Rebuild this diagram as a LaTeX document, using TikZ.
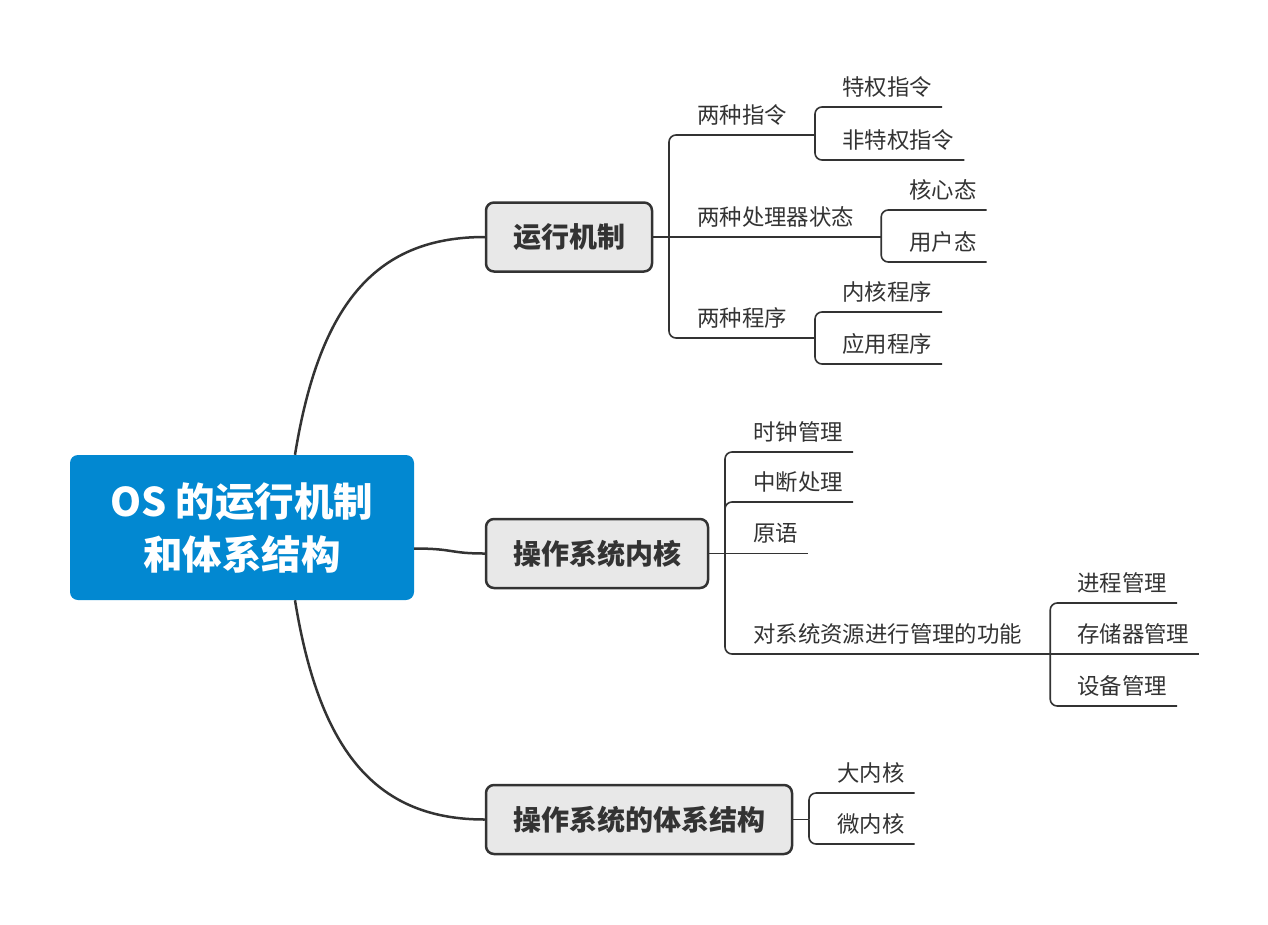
\documentclass[tikz,border=0pt]{standalone}
\usepackage{fontspec}
\setmainfont{Noto Sans CJK SC}
\definecolor{rootblue}{RGB}{2,136,209}
\definecolor{ink}{RGB}{51,51,51}
\definecolor{mainfill}{RGB}{232,232,232}
\tikzset{
 rootnode/.style={fill=rootblue, rounded corners=8pt, minimum width=344pt, minimum height=145pt, text=white, font=\fontsize{39.5}{53}\selectfont\bfseries, align=center, inner sep=0pt},
 mainnode/.style={fill=mainfill, draw=ink, line width=2.5pt, rounded corners=8pt, minimum height=69pt, inner sep=0pt, text=ink, font=\fontsize{28}{32}\selectfont\bfseries},
 leaf/.style={anchor=south west, inner xsep=0pt, inner ysep=0pt, text height=17pt, text depth=11.5pt, text=ink, font=\fontsize{22.4}{26}\selectfont},
 trunk/.style={draw=ink, line width=2.5pt},
 branch/.style={draw=ink, line width=1.6pt, rounded corners=7pt},
}
\begin{document}
\begin{tikzpicture}[x=1pt,y=-1pt]
\useasboundingbox (0,0) rectangle (1268,924);
% root and main topics
\node[rootnode] (root) at (242,527.5) {OS 的运行机制\\和体系结构};
\node[mainnode, minimum width=166pt] (m1) at (569,237) {运行机制};
\node[mainnode, minimum width=222pt] (m2) at (597,553.5) {操作系统内核};
\node[mainnode, minimum width=306pt] (m3) at (639,819.5) {操作系统的体系结构};
% trunks
\draw[trunk] ([xshift=53pt]root.north) .. controls +(25,-155) and +(-106,0) .. (m1.west);
\draw[trunk] ([yshift=-21pt]root.east) .. controls +(40,0) and +(-36,0) .. (m2.west);
\draw[trunk] ([xshift=53pt]root.south) .. controls +(25,155) and +(-106,0) .. (m3.west);
% --- 运行机制
\coordinate (j1) at (669,237);
\node[leaf] (a1) at (697,135) {两种指令};
\node[leaf] (a2) at (697,237) {两种处理器状态};
\node[leaf] (a3) at (697,338) {两种程序};
\draw[branch] (m1.east) -- (j1);
\draw[branch] (j1) |- ([xshift=28pt]a1.south east);
\draw[branch] (j1) -- ([xshift=27pt]a2.south east);
\draw[branch] (j1) |- ([xshift=28pt]a3.south east);
\coordinate (k1) at ([xshift=28pt]a1.south east);
\coordinate (k2) at ([xshift=27pt]a2.south east);
\coordinate (k3) at ([xshift=28pt]a3.south east);
\node[leaf] (b1) at (842,107) {特权指令};
\node[leaf] (b2) at (842,160) {非特权指令};
\draw[branch] (k1) |- ([xshift=10pt]b1.south east);
\draw[branch] (k1) |- ([xshift=10pt]b2.south east);
\node[leaf] (c1) at (909,210) {核心态};
\node[leaf] (c2) at (909,262) {用户态};
\draw[branch] (k2) |- ([xshift=10pt]c1.south east);
\draw[branch] (k2) |- ([xshift=10pt]c2.south east);
\node[leaf] (g1) at (842,312) {内核程序};
\node[leaf] (g2) at (842,364) {应用程序};
\draw[branch] (k3) |- ([xshift=10pt]g1.south east);
\draw[branch] (k3) |- ([xshift=10pt]g2.south east);
% --- 操作系统内核
\coordinate (j2) at (725,553.5);
\draw[branch] (m2.east) -- (j2);
\node[leaf] (d1) at (753,452) {时钟管理};
\node[leaf] (d2) at (753,502) {中断处理};
\node[leaf] (d3) at (753,553.5) {原语};
\node[leaf] (d4) at (753,654) {对系统资源进行管理的功能};
\draw[branch] (j2) |- ([xshift=10pt]d1.south east);
\draw[branch] (j2) |- ([xshift=10pt]d2.south east);
\draw[branch] (j2) -- ([xshift=10pt]d3.south east);
\draw[branch] (j2) |- ([xshift=28pt]d4.south east);
\coordinate (k4) at ([xshift=28pt]d4.south east);
\node[leaf] (e1) at (1077,603) {进程管理};
\node[leaf] (e2) at (1077,654) {存储器管理};
\node[leaf] (e3) at (1077,706) {设备管理};
\draw[branch] (k4) |- ([xshift=10pt]e1.south east);
\draw[branch] (k4) -- ([xshift=10pt]e2.south east);
\draw[branch] (k4) |- ([xshift=10pt]e3.south east);
% --- 体系结构
\coordinate (j3) at (809,819.5);
\draw[branch] (m3.east) -- (j3);
\node[leaf] (f1) at (837,793) {大内核};
\node[leaf] (f2) at (837,844) {微内核};
\draw[branch] (j3) |- ([xshift=10pt]f1.south east);
\draw[branch] (j3) |- ([xshift=10pt]f2.south east);
\end{tikzpicture}
\end{document}
